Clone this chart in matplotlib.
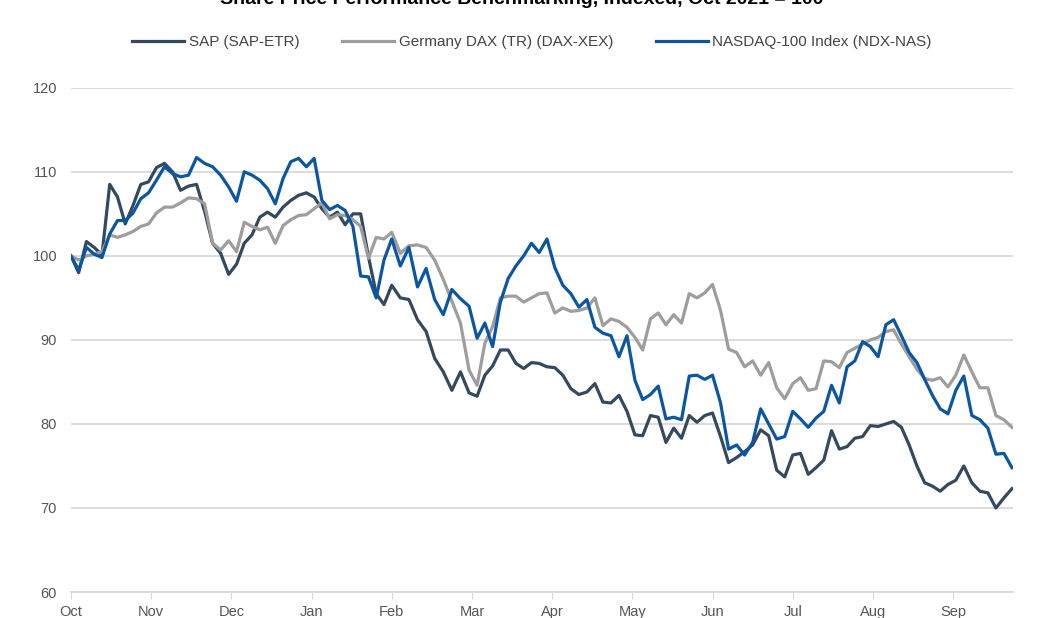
import pandas as pd
import matplotlib.pyplot as plt

plt.rcParams['font.family'] = ['Liberation Sans', 'DejaVu Sans']

# indexed price, 100 = 1 Oct 2021, read every 3 days
dates = pd.date_range('2021-10-01', '2022-09-23', freq='3D')

sap = [100, 98, 101.7, 101, 100.1, 108.5, 107, 103.8, 106, 108.5, 108.8,
       110.5, 111, 110, 107.8, 108.3, 108.5, 105.3, 101.5, 100.3,
       97.8, 99, 101.5, 102.5, 104.6, 105.2, 104.6, 105.8, 106.6, 107.2,
       107.5, 107, 105.6, 104.6, 105.2, 103.7, 105, 105, 99.9, 95.5,
       94.2, 96.5, 95, 94.8, 92.4, 91, 87.8, 86.2, 84, 86.2,
       83.7, 83.3, 85.8, 86.9, 88.8, 88.8, 87.2, 86.6, 87.3, 87.2,
       86.8, 86.7, 85.8, 84.2, 83.5, 83.8, 84.8, 82.6, 82.5, 83.4,
       81.5, 78.7, 78.6, 81, 80.8, 77.8, 79.5, 78.3, 81, 80.2,
       81, 81.3, 78.5, 75.4, 76, 76.7, 77.5, 79.3, 78.6, 74.5,
       73.7, 76.3, 76.5, 74, 74.8, 75.7, 79.2, 77, 77.3, 78.3,
       78.5, 79.8, 79.7, 80, 80.3, 79.6, 77.5, 75, 73, 72.6,
       72, 72.8, 73.3, 75, 73, 72, 71.8, 70, 71.2, 72.3]

dax = [100, 99.5, 100, 100.2, 100.5, 102.5, 102.2, 102.5, 102.9, 103.5, 103.8,
       105.1, 105.8, 105.8, 106.3, 106.9, 106.8, 106.2, 101.5, 100.7,
       101.8, 100.5, 104, 103.5, 103.1, 103.4, 101.5, 103.6, 104.3, 104.8,
       104.9, 105.6, 106.3, 104.4, 104.9, 104.8, 104.3, 103.5, 99.7, 102.2,
       102, 102.8, 100.3, 101.2, 101.3, 101, 99.5, 97.2, 94.6, 92,
       86.4, 84.6, 89.6, 91.6, 95, 95.2, 95.2, 94.5, 95, 95.5,
       95.6, 93.2, 93.8, 93.4, 93.5, 93.8, 95, 91.7, 92.5, 92.2,
       91.5, 90.3, 88.8, 92.5, 93.2, 91.8, 93, 92, 95.5, 95,
       95.6, 96.6, 93.5, 88.9, 88.5, 86.8, 87.5, 85.8, 87.3, 84.3,
       83, 84.8, 85.5, 84, 84.2, 87.5, 87.4, 86.7, 88.5, 89,
       89.5, 90, 90.3, 91, 91.2, 89.5, 88, 86.5, 85.4, 85.2,
       85.5, 84.4, 85.8, 88.2, 86.2, 84.3, 84.3, 81, 80.5, 79.6]

ndx = [100, 98.3, 101, 100.2, 99.8, 102.6, 104.2, 104.2, 105.1, 106.8, 107.5,
       109, 110.6, 109.8, 109.4, 109.6, 111.7, 111, 110.6, 109.6,
       108.2, 106.5, 110, 109.6, 109, 108, 106.2, 109.2, 111.2, 111.6,
       110.6, 111.6, 106.6, 105.5, 106, 105.4, 103.5, 97.6, 97.5, 95,
       99.5, 102, 98.8, 101, 96.3, 98.5, 94.8, 93, 96, 94.9,
       94, 90.2, 92, 89.2, 94.5, 97.3, 98.8, 100, 101.5, 100.4,
       102, 98.6, 96.5, 95.5, 93.9, 94.8, 91.5, 90.8, 90.5, 88,
       90.5, 85.2, 82.9, 83.5, 84.5, 80.6, 80.8, 80.5, 85.7, 85.8,
       85.3, 85.8, 82.5, 77, 77.5, 76.3, 77.8, 81.8, 80, 78.2,
       78.5, 81.5, 80.6, 79.6, 80.7, 81.5, 84.6, 82.5, 86.8, 87.5,
       89.8, 89.2, 88, 91.8, 92.4, 90.5, 88.5, 87.3, 85.3, 83.4,
       81.8, 81.2, 84, 85.7, 81, 80.5, 79.5, 76.4, 76.5, 74.8]

labels = ['SAP (SAP-ETR)', 'Germany DAX (TR) (DAX-XEX)', 'NASDAQ-100 Index (NDX-NAS)']
colors = ['#34495e', '#9d9d9d', '#0b56a3']
months = ['Oct', 'Nov', 'Dec', 'Jan', 'Feb', 'Mar', 'Apr', 'May', 'Jun', 'Jul', 'Aug', 'Sep']

# each month gets the same width on the axis
pos = (dates.year - 2021) * 12 + dates.month - 10 + (dates.day - 1) / dates.days_in_month

fig = plt.figure(figsize=(10.43, 6.18), dpi=100)
ax = fig.add_axes([0.068, 0.042, 0.903, 0.816])

for vals, lab, col in zip([sap, dax, ndx], labels, colors):
    ax.plot(pos, vals, color=col, lw=2.3, label=lab, solid_joinstyle='round')

ax.set_ylim(60, 120)
ax.set_xlim(pos[0], pos[-1] + 0.01)
ax.set_yticks(range(60, 121, 10))
ax.set_xticks(range(12))
ax.set_xticklabels(months)
ax.grid(axis='y', color='#d9d9d9', lw=1.3)
ax.set_axisbelow(True)
for s in ['top', 'right', 'left']:
    ax.spines[s].set_visible(False)
ax.spines['bottom'].set_color('#d9d9d9')
ax.spines['bottom'].set_linewidth(1.3)
ax.tick_params(axis='y', length=0, pad=10, labelsize=10.5, labelcolor='#555555')
ax.tick_params(axis='x', length=5, color='#d9d9d9', labelsize=10.5, labelcolor='#555555', pad=4)

fig.legend(loc='center', bbox_to_anchor=(0.51, 0.932), ncol=3, frameon=False,
           fontsize=11, handlelength=3.4, handletextpad=0.3, columnspacing=2.8,
           labelcolor='#444444')

# title sits mostly above the top edge, as in the source image
fig.text(0.5, 0.9935, 'Share Price Performance Benchmarking, Indexed, Oct 2021 = 100',
         ha='center', va='baseline', fontsize=14, fontweight='bold', color='#000000')

fig.savefig('out.png', dpi=100)
